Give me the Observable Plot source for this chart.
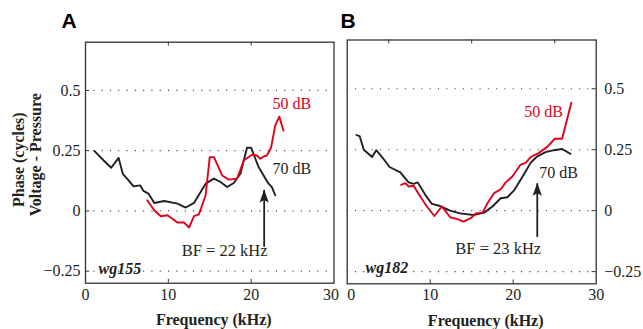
<!DOCTYPE html>
<html>
<head>
<meta charset="utf-8">
<script src="https://cdn.jsdelivr.net/npm/d3@7"></script>
<script src="https://cdn.jsdelivr.net/npm/@observablehq/plot@0.6"></script>
<style>
  html, body { margin: 0; padding: 0; background: #fff; }
  #wrap { position: relative; width: 643px; height: 329px; overflow: hidden; font-family: 'Liberation Serif', serif; }
  #pa, #pb { position: absolute; top: 0; }
  #pa { left: 0; }
  #pb { left: 343px; }
</style>
</head>
<body>
<div id="wrap"><div id="pa"></div><div id="pb"></div></div>
<script>
// ---- data ----
const a70x = [1.09,2.2,3.1,4.0,4.5,5.2,5.8,6.6,7.0,7.6,8.3,9.5,11.1,12.1,13.1,14.5,15.5,16.3,17.1,17.9,18.7,19.5,20.0,20.9,21.5,22.1,22.5,22.9];
const a70y = [0.248,0.209,0.179,0.220,0.154,0.127,0.102,0.106,0.083,0.072,0.033,0.041,0.030,0.014,0.033,0.113,0.134,0.120,0.099,0.116,0.154,0.262,0.262,0.182,0.147,0.113,0.099,0.065];
const a50x = [7.45,8.3,9.1,9.9,11.1,11.9,12.5,13.1,13.7,14.5,15.0,15.5,16.5,17.3,18.3,19.1,20.1,20.7,21.1,21.5,21.9,22.4,22.9,23.4,23.9];
const a50y = [0.044,0.003,-0.022,-0.018,-0.048,-0.048,-0.069,-0.022,-0.014,0.065,0.223,0.223,0.147,0.130,0.134,0.209,0.233,0.230,0.216,0.226,0.230,0.262,0.354,0.391,0.333];
const b70x = [1.12,1.5,2.0,3.0,3.5,4.2,5.1,6.4,7.4,8.0,8.5,9.4,10.2,11.2,12.4,13.6,15.2,16.5,17.5,18.5,19.3,20.1,21.1,22.1,22.9,23.9,24.9,25.9,26.9];
const b70y = [0.31,0.306,0.25,0.22,0.248,0.22,0.179,0.157,0.116,0.11,0.116,0.065,0.028,0.019,0.0,-0.011,-0.018,-0.008,0.017,0.051,0.055,0.083,0.138,0.196,0.223,0.24,0.248,0.253,0.233];
const b50x = [6.5,7.0,7.4,8.0,8.8,9.6,10.5,11.4,12.4,13.3,14.0,14.9,15.5,16.3,16.9,17.7,18.5,19.1,19.9,20.9,21.5,22.1,23.1,24.1,25.0,25.9,27.0];
const b50y = [0.106,0.113,0.099,0.102,0.058,0.017,-0.022,0.017,-0.027,-0.035,-0.045,-0.031,-0.011,-0.008,0.03,0.072,0.088,0.116,0.14,0.189,0.196,0.22,0.237,0.262,0.295,0.295,0.443];

const xTicks = [0, 10, 20, 30];
const xTickLabels = ["0", "10", "20", "30"];
const yTicks = [-0.25, 0, 0.25, 0.5];
const yTickLabels = ["\u22120.25", "0", "0.25", "0.5"];
const topTicksA = [10, 20];
const topTicksB = [5, 15, 25];
const innerTicks = [10, 20];

const panelLetters = ["A", "B"];
const unitNames = ["wg155", "wg182"];
const levelLabels = ["50 dB", "70 dB"];
const bfLabels = ["BF = 22 kHz", "BF = 23 kHz"];
// annotation anchors (data units)
const labelA = {x50: 24.9, y50: 0.446, x70: 24.9, y70: 0.176, xbf: 16.8, ybf: -0.167, xu: 1.57, yu: -0.239};
const labelB = {x50: 23.65, y50: 0.406, x70: 25.46, y70: 0.153, xbf: 18.2, ybf: -0.157, xu: 2.2, yu: -0.235};
const arrowA = {x: 21.57, y1: -0.151, y2: 0.085};
const arrowB = {x: 22.9, y1: -0.110, y2: 0.110};

const RED = "#e2001a";
const BLK = "#231f20";
const SERIF = "'Liberation Serif', 'Times New Roman', serif";
const SANS = "'Liberation Sans', Arial, sans-serif";

const toRows = (xs, ys) => xs.map((x, i) => ({x, y: ys[i]}));
const fmtX = d => xTickLabels[xTicks.indexOf(d)];
const fmtY = d => yTickLabels[yTicks.indexOf(d)];

// narrow filled arrow head, tip at origin pointing up
const headSymbol = {
  draw(ctx) {
    ctx.moveTo(0, -1);
    ctx.lineTo(4.6, 12);
    ctx.lineTo(0, 9.5);
    ctx.lineTo(-4.6, 12);
    ctx.closePath();
  }
};

function panel(opts) {
  const {w, mt, mb, ml, mr, s70, s50, lab, arr, letter, unit, bf, side, topTicks, titleDx, xGroups} = opts;
  const h = 329;
  const txt = {fontFamily: SERIF, fontSize: 16};
  const marks = [
    Plot.ruleY(yTicks, {stroke: "#444", strokeWidth: 1.1, strokeDasharray: "1.1,7.2"}),
    Plot.line(s70, {x: "x", y: "y", stroke: BLK, strokeWidth: 1.9, strokeLinejoin: "round"}),
    Plot.line(s50, {x: "x", y: "y", stroke: RED, strokeWidth: 1.9, strokeLinejoin: "round"}),
    Plot.ruleX([arr], {x: "x", y1: "y1", y2: "y2", stroke: BLK, strokeWidth: 1.8}),
    Plot.dot([arr], {x: "x", y: "y2", symbol: headSymbol, fill: BLK, stroke: "none", r: 5}),
    Plot.text([levelLabels[0]], {...txt, x: () => lab.x50, y: () => lab.y50, text: d => d, fill: RED}),
    Plot.text([levelLabels[1]], {...txt, x: () => lab.x70, y: () => lab.y70, text: d => d, fill: BLK}),
    Plot.text([bf], {...txt, fontSize: 16.5, x: () => lab.xbf, y: () => lab.ybf, text: d => d, fill: BLK}),
    Plot.text([unit], {...txt, x: () => lab.xu, y: () => lab.yu, text: d => d, fill: BLK, fontWeight: "bold", fontStyle: "italic", textAnchor: "start"}),
    // inward ticks
    Plot.ruleX(topTicks, {y1: 0.7, y2: 0.684, stroke: "#333", strokeWidth: 1}),
    Plot.ruleX(innerTicks, {y1: -0.3, y2: -0.284, stroke: "#333", strokeWidth: 1}),
    side === "left"
      ? Plot.ruleY(yTicks, {x1: 0, x2: 0.5, stroke: "#333", strokeWidth: 1})
      : Plot.ruleY(yTicks, {x1: 29.5, x2: 30, stroke: "#333", strokeWidth: 1}),
    Plot.frame({stroke: "#333", strokeWidth: 1.3}),
    ...xGroups.map(g => Plot.axisX({anchor: "bottom", ticks: g.ticks, tickSize: 0, tickPadding: 5, dx: g.dx,
      fontSize: 16, fontFamily: SERIF, tickFormat: fmtX, label: null})),
    Plot.axisY({anchor: side, ticks: yTicks, tickSize: 0, tickPadding: side === "left" ? 5 : 8,
      fontSize: 16, fontFamily: SERIF, tickFormat: fmtY, label: null}),
    Plot.text(["Frequency (kHz)"], {frameAnchor: "bottom", dx: titleDx, dy: 42, text: d => d, fontSize: 16, fontWeight: "bold", fontFamily: SERIF, fill: BLK}),
    Plot.text([letter], {frameAnchor: "top-left", dx: opts.letterDx, dy: opts.letterDy, text: d => d, fontSize: 21, fontWeight: "bold", fontFamily: SANS, fill: "#000"})
  ];
  if (side === "left") {
    marks.push(Plot.text(["Phase (cycles)"], {frameAnchor: "left", textAnchor: "middle", dx: -67, dy: -3, rotate: -90, text: d => d, fontSize: 16, fontWeight: "bold", fontFamily: SERIF, fill: BLK}));
    marks.push(Plot.text(["Voltage - Pressure"], {frameAnchor: "left", textAnchor: "middle", dx: -50, dy: -8, rotate: -90, text: d => d, fontSize: 16, fontWeight: "bold", fontFamily: SERIF, fill: BLK}));
  }
  return Plot.plot({
    width: w, height: h,
    marginTop: mt, marginBottom: mb, marginLeft: ml, marginRight: mr,
    style: {fontFamily: SERIF, fontSize: "16px", color: BLK, background: "transparent", overflow: "visible"},
    x: {domain: [0, 30], axis: null},
    y: {domain: [-0.3, 0.7], axis: null},
    marks
  });
}

document.getElementById("pa").append(panel({
  w: 343, mt: 41.7, mb: 46.3, ml: 85, mr: 9.5,
  s70: toRows(a70x, a70y), s50: toRows(a50x, a50y),
  lab: labelA, arr: arrowA, letter: panelLetters[0], unit: unitNames[0], bf: bfLabels[0],
  side: "left", topTicks: topTicksA, titleDx: 4, letterDx: -24, letterDy: -29,
  xGroups: [{ticks: [0, 10, 20], dx: 0}, {ticks: [30], dx: -3}]
}));
document.getElementById("pb").append(panel({
  w: 300, mt: 39.5, mb: 45.7, ml: 3.7, mr: 47.3,
  s70: toRows(b70x, b70y), s50: toRows(b50x, b50y),
  lab: labelB, arr: arrowB, letter: panelLetters[1], unit: unitNames[1], bf: bfLabels[1],
  side: "right", topTicks: topTicksB, titleDx: 14, letterDx: -6.7, letterDy: -27,
  xGroups: [{ticks: [0], dx: 4}, {ticks: [10, 20, 30], dx: 0}]
}));
</script>
</body>
</html>
